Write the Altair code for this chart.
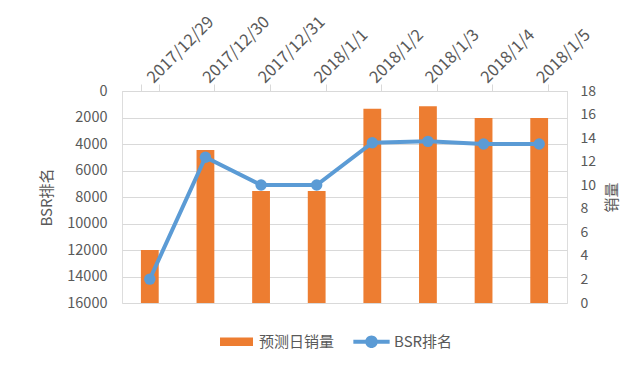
import altair as alt
import pandas as pd

dates = ["2017/12/29", "2017/12/30", "2017/12/31", "2018/1/1",
         "2018/1/2", "2018/1/3", "2018/1/4", "2018/1/5"]
sales = [4.5, 13.0, 9.5, 9.5, 16.5, 16.7, 15.7, 15.7]
bsr = [14200, 5000, 7100, 7100, 3900, 3800, 4000, 4000]
series_names = ["预测日销量", "BSR排名"]
series_colors = ["#ED7D31", "#5B9BD5"]

df = pd.DataFrame({"date": dates, "sales": sales, "bsr": bsr})

FONT = "Noto Sans CJK SC"
TXT = "#595959"

rect_path = "M-1,-0.26H1V0.26H-1Z"
line_path = ("M-1.1,-0.12H1.1V0.12H-1.1Z "
             "M0.38,0A0.38,0.38 0 1 1 -0.38,0A0.38,0.38 0 1 1 0.38,0Z")
sym_expr = f"datum.value == 'BSR排名' ? '{line_path}' : '{rect_path}'"

x_enc = alt.X(
    "date:N", sort=dates, title=None,
    scale=alt.Scale(paddingInner=0.68, paddingOuter=0.34),
    axis=alt.Axis(orient="top", labelAngle=-45, labelAlign="left",
                  labelBaseline="middle", tickBand="extent", domain=True,
                  domainColor="#d9d9d9", ticks=True, tickSize=7,
                  tickColor="#d9d9d9", labelPadding=4, labelFontSize=16.5,
                  labelColor=TXT, labelFont=FONT, grid=False),
)

color_scale = alt.Scale(domain=series_names, range=series_colors)

bars = alt.Chart(df).transform_calculate(series="'预测日销量'").mark_bar().encode(
    x=x_enc,
    y=alt.Y("sales:Q", scale=alt.Scale(domain=[0, 18], nice=False, zero=True),
            axis=alt.Axis(orient="right", title="销量", titleAngle=-90,
                          values=list(range(0, 19, 2)), grid=False,
                          domain=False, ticks=False, labelPadding=13,
                          labelFontSize=14, labelColor=TXT, labelFont=FONT,
                          titleFont=FONT, titleFontSize=15, titleColor=TXT,
                          titleFontWeight="normal", titlePadding=24)),
    color=alt.Color("series:N", scale=color_scale,
                    legend=alt.Legend(orient="none", legendX=98, legendY=234,
                                      direction="horizontal", title=None,
                                      symbolType=alt.ExprRef(sym_expr),
                                      symbolSize=1089, symbolStrokeWidth=0,
                                      symbolOpacity=1, padding=0,
                                      labelFont=FONT, labelFontSize=15,
                                      labelColor=TXT, labelOffset=6,
                                      columnPadding=18)),
)

line = alt.Chart(df).transform_calculate(series="'BSR排名'").mark_line(
    strokeWidth=4,
    point=alt.OverlayMarkDef(size=130, filled=True, opacity=1),
).encode(
    x=x_enc,
    y=alt.Y("bsr:Q", scale=alt.Scale(domain=[0, 16000], reverse=True, nice=False),
            axis=alt.Axis(orient="left", title="BSR排名", format="d",
                          values=list(range(0, 16001, 2000)), grid=True,
                          gridColor="#d9d9d9", domain=False, ticks=False,
                          labelPadding=15, labelFontSize=14.5, labelColor=TXT,
                          labelFont=FONT, titleFont=FONT, titleFontSize=15,
                          titleColor=TXT, titleFontWeight="normal",
                          titlePadding=12)),
    color=alt.Color("series:N", scale=color_scale, legend=None),
)

chart = alt.layer(bars, line).resolve_scale(y="independent").properties(
    width=445, height=212,
    autosize=alt.AutoSizeParams(type="none"),
    padding={"left": 114, "top": 83, "right": 65, "bottom": 56},
).configure_view(stroke=None).configure(font=FONT)

chart.save("out.html", embed_options={"renderer": "svg", "actions": False})
